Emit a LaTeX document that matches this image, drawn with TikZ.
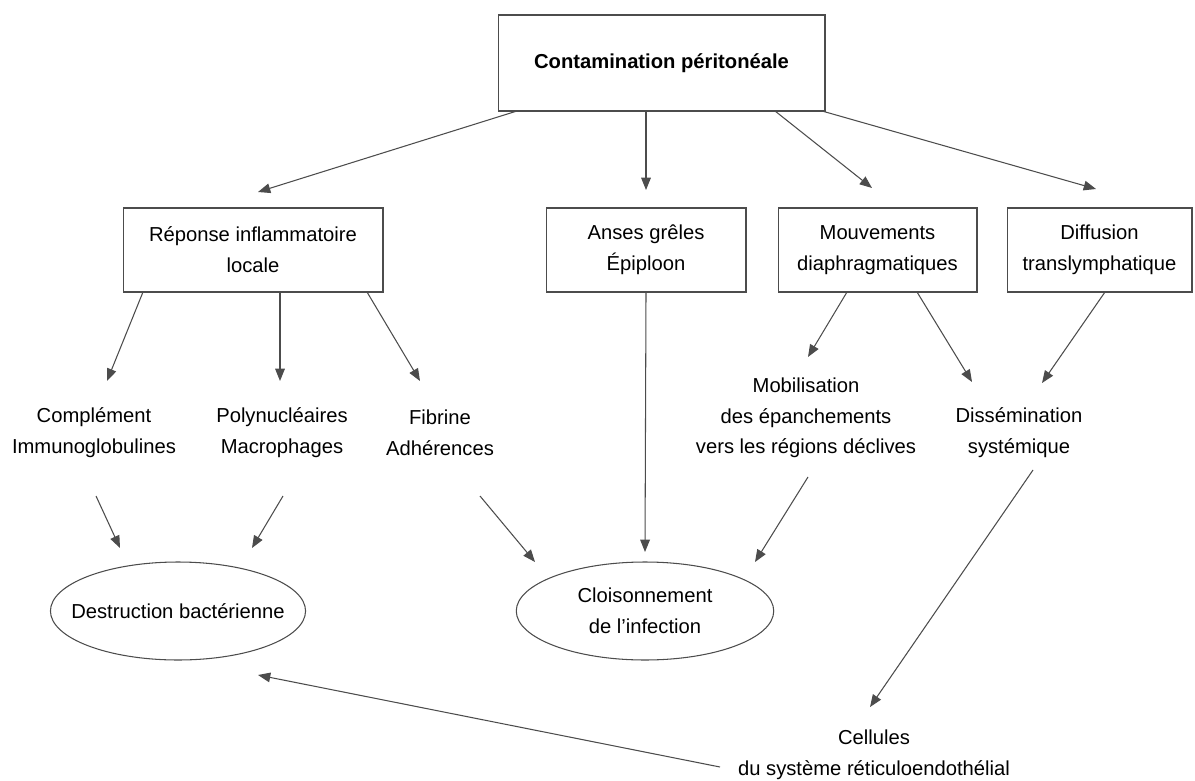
\documentclass[tikz,border=0pt]{standalone}
\usepackage{fontspec}
\setmainfont{Liberation Sans}
\usetikzlibrary{shapes, calc, arrows.meta}

\begin{document}
\begin{tikzpicture}[x=0.02cm, y=-0.02cm,
		police/.style={font=\fontsize{11.5}{17.5}\selectfont},
		boite/.style={police, draw=black!70, line width=0.6pt, minimum height=1.68cm, align=center},
		texte/.style={police, align=center},
		bulle/.style={police, ellipse, draw=black!70, line width=0.6pt, minimum width=5.15cm, minimum height=1.96cm, align=center},
		fleche/.style={draw=black!70, line width=0.6pt, -{Triangle[length=7pt,width=5.5pt]}}]
		\useasboundingbox (0,0) rectangle (1195,780);

		\node[boite, minimum width=6.54cm, minimum height=1.92cm, font=\fontsize{11.5}{17.5}\selectfont\bfseries] (contam) at (661.5, 63) {Contamination péritonéale};

		\node[boite, minimum width=5.2cm] (reponse) at (253, 250) {Réponse inflammatoire\\locale};
		\node[boite, minimum width=4cm] (anses) at (646, 250) {Anses grêles\\Épiploon};
		\node[boite, minimum width=3.98cm] (mouv) at (877.5, 250) {Mouvements\\diaphragmatiques};
		\node[boite, minimum width=3.7cm] (diffus) at (1099.5, 250) {Diffusion\\translymphatique};

		\draw[fleche] ($(contam)+(-144.5,48)$) -- ($(reponse)+(5,-58)$);
		\draw[fleche] ($(contam)+(-15.5,48)$) -- ($(anses)+(0,-60)$);
		\draw[fleche] ($(contam)+(113.5,48)$) -- ($(mouv)+(-5.5,-62)$);
		\draw[fleche] ($(contam)+(160.5,48)$) -- ($(diffus)+(-3.5,-61)$);

		\node[texte] (complement) at (94, 433) {Complément\\Immunoglobulines};
		\node[texte] (polynuc) at (282, 433) {Polynucléaires\\Macrophages};
		\node[texte] (fibrine) at (440, 433) {Fibrine\\Adhérences};
		\node[texte] (mobil) at (806, 418) {Mobilisation\\des épanchements\\vers les régions déclives};
		\node[texte] (dissem) at (1019, 433) {Dissémination\\systémique};

		\draw[fleche] ($(reponse)+(-110,42)$) -- ($(complement)+(13,-52)$);
		\draw[fleche] ($(reponse)+(27,42)$) -- ($(polynuc)+(-2,-52)$);
		\draw[fleche] ($(reponse)+(114,42)$) -- ($(fibrine)+(-20,-52)$);
		\draw[fleche] ($(mouv)+(-30.5,42)$) -- ($(mobil)+(2,-61)$);
		\draw[fleche] ($(mouv)+(39.5,42)$) -- ($(dissem)+(-47,-51)$);
		\draw[fleche] ($(diffus)+(5.5,42)$) -- ($(dissem)+(23,-50)$);

		\node[bulle, minimum width=5.1cm, inner xsep=-0.33cm] (destruct) at (178, 611) {Destruction bactérienne};
		\node[bulle] (cloison) at (645, 611) {Cloisonnement\\de l'infection};
		\node[texte] (cellules) at (874, 755) {Cellules\\du système réticuloendothélial};

		\draw[fleche] ($(anses)+(0,42)$) -- ($(cloison)+(0,-59)$);
		\draw[fleche] ($(complement)+(2,63)$) -- ($(destruct)+(-58,-63)$);
		\draw[fleche] ($(polynuc)+(1,63)$) -- ($(destruct)+(74,-63)$);
		\draw[fleche] ($(fibrine)+(40,63)$) -- ($(cloison)+(-110,-49)$);
		\draw[fleche] ($(mobil)+(2,59)$) -- ($(cloison)+(110,-49)$);
		\draw[fleche] ($(dissem)+(14,37)$) -- ($(cellules)+(-4,-48)$);
		\draw[fleche] ($(cellules)+(-154,12)$) -- ($(destruct)+(80,64)$);
	\end{tikzpicture}
\end{document}
